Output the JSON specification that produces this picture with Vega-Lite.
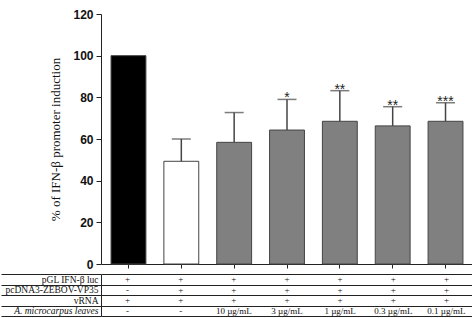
{
  "$schema": "https://vega.github.io/schema/vega-lite/v6.json",
  "padding": {"left": 0, "top": 8, "right": 0, "bottom": 0},
  "background": "white",
  "spacing": 3,
  "config": {"view": {"stroke": null}},
  "datasets": {
    "bars": [
      {"c": 1, "value": 100, "upper": null, "sig": ""},
      {"c": 2, "value": 49.3, "upper": 60, "sig": ""},
      {"c": 3, "value": 58.4, "upper": 72.7, "sig": ""},
      {"c": 4, "value": 64.3, "upper": 79, "sig": "*"},
      {"c": 5, "value": 68.5, "upper": 83.2, "sig": "**"},
      {"c": 6, "value": 66.3, "upper": 75.5, "sig": "**"},
      {"c": 7, "value": 68.5, "upper": 77.4, "sig": "***"}
    ],
    "table": [
      {"c": 1, "row": 1, "t": "+"}, {"c": 2, "row": 1, "t": "+"}, {"c": 3, "row": 1, "t": "+"}, {"c": 4, "row": 1, "t": "+"}, {"c": 5, "row": 1, "t": "+"}, {"c": 6, "row": 1, "t": "+"}, {"c": 7, "row": 1, "t": "+"},
      {"c": 1, "row": 2, "t": "-"}, {"c": 2, "row": 2, "t": "+"}, {"c": 3, "row": 2, "t": "+"}, {"c": 4, "row": 2, "t": "+"}, {"c": 5, "row": 2, "t": "+"}, {"c": 6, "row": 2, "t": "+"}, {"c": 7, "row": 2, "t": "+"},
      {"c": 1, "row": 3, "t": "+"}, {"c": 2, "row": 3, "t": "+"}, {"c": 3, "row": 3, "t": "+"}, {"c": 4, "row": 3, "t": "+"}, {"c": 5, "row": 3, "t": "+"}, {"c": 6, "row": 3, "t": "+"}, {"c": 7, "row": 3, "t": "+"},
      {"c": 1, "row": 4, "t": "-"}, {"c": 2, "row": 4, "t": "-"}, {"c": 3, "row": 4, "t": "10 µg/mL"}, {"c": 4, "row": 4, "t": "3 µg/mL"}, {"c": 5, "row": 4, "t": "1 µg/mL"}, {"c": 6, "row": 4, "t": "0.3 µg/mL"}, {"c": 7, "row": 4, "t": "0.1 µg/mL"}
    ]
  },
  "vconcat": [
    {
      "width": 372,
      "height": 250,
      "data": {"name": "bars"},
      "encoding": {
        "x": {
          "field": "c", "type": "ordinal",
          "scale": {"paddingInner": 0.34, "paddingOuter": 0.19},
          "axis": {"labels": false, "title": null, "tickSize": 4, "tickColor": "#222", "domainColor": "#222", "tickWidth": 1, "domainWidth": 1}
        }
      },
      "layer": [
        {
          "mark": {"type": "bar", "stroke": "#444", "strokeWidth": 1},
          "encoding": {
            "y": {
              "field": "value", "type": "quantitative",
              "scale": {"domain": [0, 120], "nice": false},
              "axis": {
                "title": "% of IFN-β promoter induction",
                "titleFont": "Liberation Serif", "titleFontSize": 13, "titleFontWeight": "normal", "titleColor": "#111", "titlePadding": 10,
                "values": [0,5,10,15,20,25,30,35,40,45,50,55,60,65,70,75,80,85,90,95,100,105,110,115,120],
                "labelExpr": "datum.value % 20 === 0 ? datum.label : ''",
                "labelFont": "Liberation Sans", "labelFontSize": 12, "labelFontWeight": "bold", "labelColor": "#111", "labelPadding": 3,
                "tickSize": {"condition": {"test": "datum.value % 20 === 0", "value": 5}, "value": 3},
                "tickColor": "#222", "domainColor": "#222", "grid": false
              }
            },
            "fill": {
              "field": "c", "type": "ordinal", "legend": null,
              "scale": {"domain": [1,2,3,4,5,6,7], "range": ["#000000", "#ffffff", "#808080", "#808080", "#808080", "#808080", "#808080"]}
            }
          }
        },
        {
          "mark": {"type": "rule", "color": "#444", "strokeWidth": 1.5},
          "encoding": {"y": {"field": "value", "type": "quantitative"}, "y2": {"field": "upper"}}
        },
        {
          "mark": {"type": "tick", "color": "#444", "thickness": 1.5, "size": 19},
          "encoding": {"y": {"field": "upper", "type": "quantitative"}}
        },
        {
          "mark": {"type": "text", "font": "Liberation Sans", "fontSize": 14, "baseline": "alphabetic", "dy": 3, "color": "#222"},
          "encoding": {"y": {"field": "upper", "type": "quantitative"}, "text": {"field": "sig"}}
        }
      ]
    },
    {
      "width": 372,
      "height": 42,
      "data": {"name": "table"},
      "mark": {"type": "text", "font": "Liberation Serif", "fontSize": 9, "color": "#111"},
      "encoding": {
        "x": {"field": "c", "type": "ordinal", "scale": {"paddingInner": 0.34, "paddingOuter": 0.19}, "axis": null},
        "y": {
          "field": "row", "type": "quantitative",
          "scale": {"domain": [0.5, 4.5], "nice": false, "zero": false, "reverse": true},
          "axis": {
            "title": null,
            "values": [0.5, 1.5, 2.5, 3.5, 4.5],
            "labelExpr": "datum.value === 0.5 ? 'pGL IFN-β luc' : datum.value === 1.5 ? 'pcDNA3-ZEBOV-VP35' : datum.value === 2.5 ? 'vRNA' : datum.value === 3.5 ? 'A. microcarpus leaves' : ''",
            "labelFont": "Liberation Serif", "labelFontSize": 9.5, "labelColor": "#111",
            "labelFontStyle": {"condition": {"test": "datum.value === 3.5", "value": "italic"}, "value": "normal"},
            "labelOffset": 5.25, "labelBaseline": "middle", "labelAlign": "right",
            "tickSize": 100, "labelPadding": -97, "tickColor": "#222", "domainColor": "#222",
            "grid": true, "gridColor": "#222", "gridOpacity": 1, "labelBound": false, "labelOverlap": false
          }
        },
        "text": {"field": "t"}
      }
    }
  ]
}
